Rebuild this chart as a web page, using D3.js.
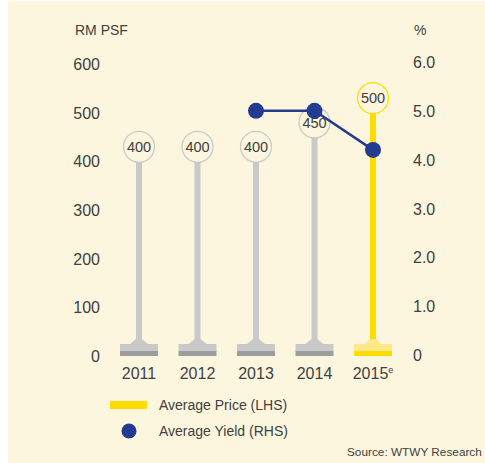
<!DOCTYPE html>
<html>
<head>
<meta charset="utf-8">
<script src="https://cdn.jsdelivr.net/npm/d3@7"></script>
<style>
  body { margin: 0; background: #fff; }
  text { font-family: "Liberation Sans", Arial, sans-serif; fill: #404040; }
  .narrow { font-family: "Liberation Sans Narrow", "Arial Narrow", sans-serif; }
</style>
</head>
<body>
<script>
// chart data
var years = ["2011", "2012", "2013", "2014", "2015"];
var prices = [400, 400, 400, 450, 500];
var yieldYears = ["2013", "2014", "2015"];
var yields = [5.0, 5.0, 4.2];
var priceTicks = [0, 100, 200, 300, 400, 500, 600];
var yieldTicks = [0, 1, 2, 3, 4, 5, 6];

var W = 485, H = 463;

var svg = d3.select("body").append("svg")
    .attr("width", W).attr("height", H);

svg.append("rect").attr("x", 8).attr("y", 1)
   .attr("width", W - 8).attr("height", H - 1)
   .attr("fill", "#fdf6df");

var x = d3.scalePoint().domain(years).range([139, 373]);
var y = d3.scaleLinear().domain([0, 600]).range([356, 64]);
var y2 = d3.scaleLinear().domain([0, 6]).range([355, 62]);

// left axis
var yAxis = d3.axisLeft(y).tickValues(priceTicks).tickSize(0).tickPadding(0);
var yg = svg.append("g").attr("transform", "translate(100,0)").call(yAxis);
yg.select(".domain").remove();
yg.selectAll("text").attr("font-size", 16).attr("dy", "0.35em");

// right axis
var y2Axis = d3.axisRight(y2).tickValues(yieldTicks).tickSize(0).tickPadding(0)
    .tickFormat(d => d === 0 ? "0" : d3.format(".1f")(d));
var y2g = svg.append("g").attr("transform", "translate(413,0)").call(y2Axis);
y2g.select(".domain").remove();
y2g.selectAll("text").attr("font-size", 16).attr("dy", "0.35em");

svg.append("text").text("RM PSF").attr("x", 75).attr("y", 35).attr("font-size", 14);
svg.append("text").text("%").attr("x", 414).attr("y", 35).attr("font-size", 14);

// lollipops
var r = 15.5;
var pins = svg.append("g").selectAll("g").data(years).enter().append("g")
    .attr("transform", d => "translate(" + x(d) + ",0)");

var isLast = (d, i) => i === years.length - 1;
var stemCol = (d, i) => isLast(d, i) ? "#ffdc00" : "#c9c9c9";
var platCol = (d, i) => isLast(d, i) ? "#fde98c" : "#c9c9c9";
var baseCol = (d, i) => isLast(d, i) ? "#ffdc00" : "#9d9d9d";

pins.append("rect")
    .attr("x", -3).attr("width", 6)
    .attr("y", (d, i) => y(prices[i]))
    .attr("height", (d, i) => 344 - y(prices[i]))
    .attr("fill", stemCol);
pins.append("path")
    .attr("d", "M-3,339 L3,339 L9,344 L-9,344 Z")
    .attr("fill", platCol);
pins.append("rect")
    .attr("x", -19).attr("width", 38).attr("y", 344).attr("height", 7)
    .attr("fill", platCol);
pins.append("rect")
    .attr("x", -19).attr("width", 38).attr("y", 351).attr("height", 5)
    .attr("fill", baseCol);
pins.append("circle")
    .attr("cy", (d, i) => y(prices[i]) - r + 1)
    .attr("r", r)
    .attr("fill", "#fdf6df")
    .attr("stroke", (d, i) => isLast(d, i) ? "#ffdc00" : "#c9c9c9")
    .attr("stroke-width", 1.3);
pins.append("text")
    .attr("class", "narrow")
    .attr("y", (d, i) => y(prices[i]) - r + 1)
    .attr("dy", "0.36em")
    .attr("text-anchor", "middle")
    .attr("font-size", 14.5)
    .text((d, i) => prices[i]);

// year labels
var xl = svg.append("g").selectAll("text").data(years).enter().append("text")
    .attr("x", d => x(d)).attr("y", 379)
    .attr("text-anchor", "middle").attr("font-size", 16)
    .text(d => d);
xl.filter((d, i) => isLast(d, i)).append("tspan")
    .attr("font-size", 9).attr("dy", -6).text("e");

// yield line
var line = d3.line().x((d, i) => x(yieldYears[i])).y(d => y2(d));
svg.append("path").datum(yields).attr("d", line)
    .attr("fill", "none").attr("stroke", "#243c8f").attr("stroke-width", 2.5);
svg.append("g").selectAll("circle").data(yields).enter().append("circle")
    .attr("cx", (d, i) => x(yieldYears[i])).attr("cy", d => y2(d))
    .attr("r", 8).attr("fill", "#243c8f");

// legend
svg.append("rect").attr("x", 110).attr("y", 401).attr("width", 37).attr("height", 8).attr("fill", "#ffdc00");
svg.append("text").text("Average Price (LHS)").attr("x", 159).attr("y", 410).attr("font-size", 14);
svg.append("circle").attr("cx", 129).attr("cy", 431).attr("r", 7.5).attr("fill", "#243c8f");
svg.append("text").text("Average Yield (RHS)").attr("x", 159).attr("y", 436).attr("font-size", 14);
svg.append("text").text("Source: WTWY Research").attr("x", 347).attr("y", 456).attr("font-size", 11.8);
</script>
</body>
</html>
